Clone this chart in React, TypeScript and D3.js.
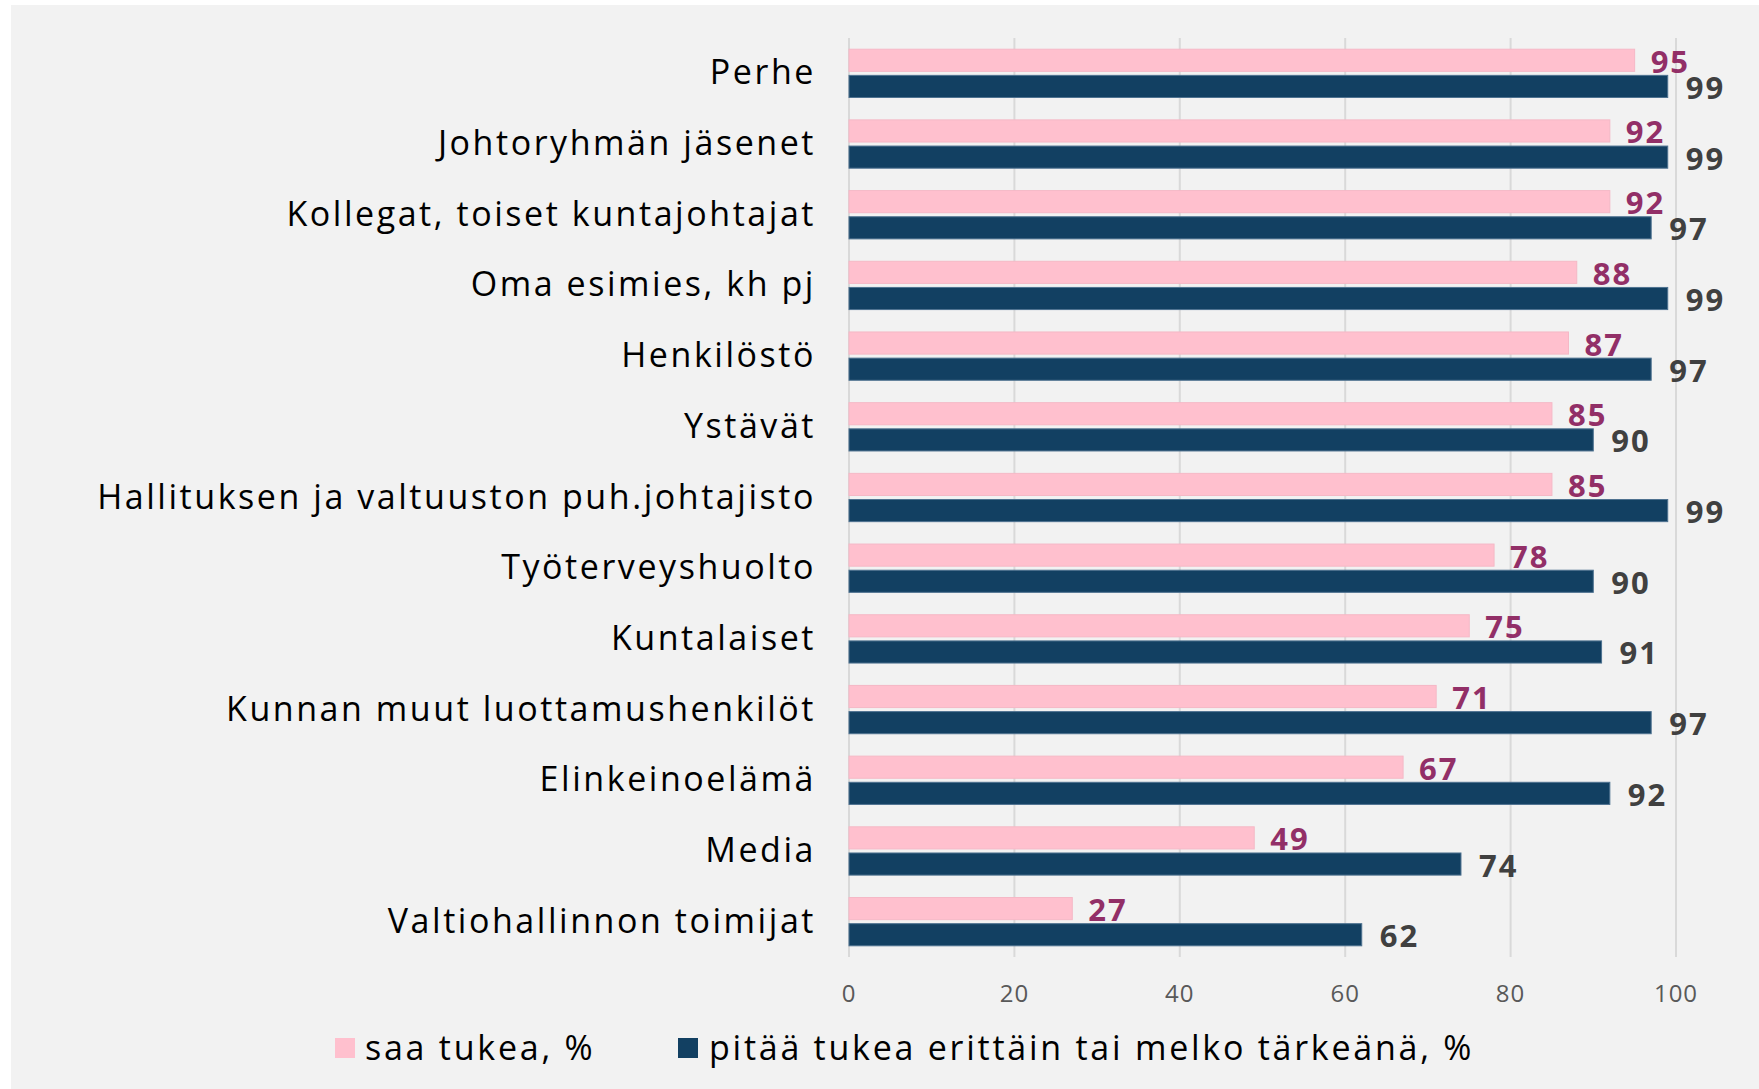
import React from "react";
import * as d3 from "d3";

const categories = [
  "Perhe",
  "Johtoryhmän jäsenet",
  "Kollegat, toiset kuntajohtajat",
  "Oma esimies, kh pj",
  "Henkilöstö",
  "Ystävät",
  "Hallituksen ja valtuuston puh.johtajisto",
  "Työterveyshuolto",
  "Kuntalaiset",
  "Kunnan muut luottamushenkilöt",
  "Elinkeinoelämä",
  "Media",
  "Valtiohallinnon toimijat",
];
const saaTukea = [95, 92, 92, 88, 87, 85, 85, 78, 75, 71, 67, 49, 27];
const pitaaTarkeana = [99, 99, 97, 99, 97, 90, 99, 90, 91, 97, 92, 74, 62];
const seriesNames = ["saa tukea, %", "pitää tukea erittäin tai melko tärkeänä, %"];
const xTicks = [0, 20, 40, 60, 80, 100];

const W = 1759;
const H = 1089;
const FONT = "'Open Sans', 'Noto Sans', sans-serif";
const PINK = "#FFC0CE";
const NAVY = "#124062";
const PINK_LABEL = "#922F67";
const NAVY_LABEL = "#404040";

export default function App() {
  const x = d3.scaleLinear().domain([0, 100]).range([849, 1676]);
  const y = d3.scaleBand<string>().domain(categories).range([38, 957]).padding(0);
  const inner = d3
    .scaleBand<string>()
    .domain(["s0", "s1"])
    .range([11.2, 59.5])
    .paddingInner(0.154)
    .paddingOuter(0);
  const bw = inner.bandwidth();
  const series = [
    { key: "s0", values: saaTukea, fill: PINK, stroke: "#F5B8C6", label: PINK_LABEL, off: 16 },
    { key: "s1", values: pitaaTarkeana, fill: NAVY, stroke: "#4E7290", label: NAVY_LABEL, off: 18 },
  ];

  return (
    <div style={{ position: "absolute", left: 0, top: 0, width: W, height: H, background: "#fff" }}>
      <svg width={W} height={H} style={{ display: "block" }}>
        <rect x={11} y={5} width={W - 11} height={H - 5} fill="#F2F2F2" />
        {xTicks.map((t) => (
          <g key={t}>
            <line x1={x(t)} x2={x(t)} y1={38} y2={957} stroke="#D9D9D9" strokeWidth={2} />
            <text
              x={x(t)}
              y={992}
              textAnchor="middle"
              dominantBaseline="central"
              fontFamily={FONT}
              fontSize={24}
              letterSpacing={1}
              fill="#595959"
            >
              {t}
            </text>
          </g>
        ))}
        {categories.map((c, i) => {
          const y0 = y(c) as number;
          return (
            <g key={c}>
              <text
                x={816}
                y={y0 + y.bandwidth() / 2 - 2}
                textAnchor="end"
                dominantBaseline="central"
                fontFamily={FONT}
                fontSize={34}
                letterSpacing={2.55}
                fill="#000"
              >
                {c}
              </text>
              {series.map((s) => {
                const by = y0 + (inner(s.key) as number);
                const v = s.values[i];
                return (
                  <g key={s.key}>
                    <rect
                      x={x(0)}
                      y={by}
                      width={x(v) - x(0)}
                      height={bw}
                      fill={s.fill}
                      stroke={s.stroke}
                      strokeWidth={1}
                    />
                    <text
                      x={x(v) + s.off}
                      y={by + bw / 2 + 0.5}
                      dominantBaseline="central"
                      fontFamily={FONT}
                      fontWeight={700}
                      fontSize={31}
                      letterSpacing={2}
                      fill={s.label}
                    >
                      {v}
                    </text>
                  </g>
                );
              })}
            </g>
          );
        })}
        {/* legend */}
        <rect x={335} y={1038} width={20} height={20} fill={PINK} />
        <text x={365} y={1047} dominantBaseline="central" fontFamily={FONT} fontSize={34} letterSpacing={2.75} fill="#000">
          {seriesNames[0]}
        </text>
        <rect x={678} y={1038} width={20} height={20} fill={NAVY} />
        <text x={709} y={1047} dominantBaseline="central" fontFamily={FONT} fontSize={34} letterSpacing={2.75} fill="#000">
          {seriesNames[1]}
        </text>
      </svg>
    </div>
  );
}
